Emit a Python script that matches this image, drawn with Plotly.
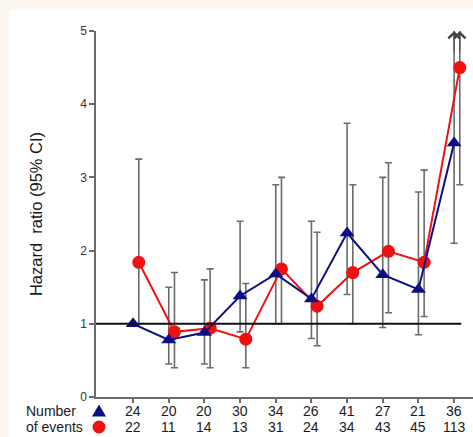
import plotly.graph_objects as go

# Exposure groups (1..10) and hazard ratios with 95% CI for the two cohorts
groups = [1, 2, 3, 4, 5, 6, 7, 8, 9, 10]

blue_hr = [1.0, 0.78, 0.88, 1.38, 1.68, 1.34, 2.24, 1.67, 1.47, 3.47]
blue_lo = [1.0, 0.45, 0.45, 0.89, 1.0, 0.8, 1.4, 0.95, 0.85, 2.1]
blue_hi = [1.0, 1.5, 1.6, 2.4, 2.9, 2.4, 3.74, 3.0, 2.8, 6.0]

red_hr = [1.84, 0.89, 0.94, 0.79, 1.75, 1.24, 1.7, 1.99, 1.84, 4.5]
red_lo = [1.0, 0.4, 0.4, 0.4, 1.0, 0.7, 1.0, 1.15, 1.1, 2.9]
red_hi = [3.25, 1.7, 1.75, 1.55, 3.0, 2.25, 2.9, 3.2, 3.1, 6.0]

blue_events = [24, 20, 20, 30, 34, 26, 41, 27, 21, 36]
red_events = [22, 11, 14, 13, 31, 24, 34, 43, 45, 113]

y_ticks = [0, 1, 2, 3, 4, 5]
y_max = 5

BLUE = "#0d0d85"
RED = "#f01010"
GREY = "#6b6b6b"
CREAM = "#fdf8ef"
TEXT = "#1a1a1a"

RED_SHIFT = 0.16
red_x = [g + RED_SHIFT for g in groups]

W, H = 473, 437
L, R, T, B = 96, 0, 31, 40
pw, ph = W - L - R, H - T - B

fig = go.Figure()

# confidence-interval whiskers (drawn under the lines and markers)
for xs, hr, lo, hi in ((groups, blue_hr, blue_lo, blue_hi), (red_x, red_hr, red_lo, red_hi)):
    fig.add_trace(go.Scatter(
        x=xs, y=hr, mode="markers",
        marker=dict(size=1, color="rgba(0,0,0,0)"),
        error_y=dict(type="data", symmetric=False,
                     array=[h - v for h, v in zip(hi, hr)],
                     arrayminus=[v - l for v, l in zip(hr, lo)],
                     color=GREY, thickness=1.6, width=3.5),
        hoverinfo="skip", showlegend=False,
    ))

# reference line at HR = 1
fig.add_shape(type="line", xref="x", yref="y", x0=-0.04, x1=10.2, y0=1, y1=1,
              line=dict(color="#111111", width=2), layer="above")

fig.add_trace(go.Scatter(
    x=red_x, y=red_hr, mode="lines+markers",
    line=dict(color=RED, width=2),
    marker=dict(symbol="circle", size=13, color=RED),
    showlegend=False,
))
fig.add_trace(go.Scatter(
    x=groups, y=blue_hr, mode="lines+markers",
    line=dict(color=BLUE, width=2),
    marker=dict(symbol="triangle-up", size=13, color=BLUE),
    showlegend=False,
))

# open arrowheads on intervals that run past the top of the axis
for xs, hi in ((groups, blue_hi), (red_x, red_hi)):
    for x, h in zip(xs, hi):
        if h > y_max:
            fig.add_annotation(x=x, y=y_max, ax=x, ay=y_max - 0.3,
                               xref="x", yref="y", axref="x", ayref="y",
                               text="", showarrow=True, arrowhead=4,
                               arrowsize=2.2, arrowwidth=1, arrowcolor="#444444")

# number of events table under the x axis
row1 = -(411 - (H - B)) / ph
row2 = -(427 - (H - B)) / ph
for g, nb, nr in zip(groups, blue_events, red_events):
    fig.add_annotation(x=g, y=row1, xref="x", yref="paper", text=str(nb),
                       xanchor="center", yanchor="middle",
                       showarrow=False, font=dict(size=14, color=TEXT))
    fig.add_annotation(x=g, y=row2, xref="x", yref="paper", text=str(nr),
                       xanchor="center", yanchor="middle",
                       showarrow=False, font=dict(size=14, color=TEXT))

fig.add_annotation(x=(78 - L) / pw, y=row1, xref="paper", yref="paper",
                   xanchor="right", yanchor="middle",
                   text="Number", showarrow=False, font=dict(size=14, color=TEXT))
fig.add_annotation(x=(85 - L) / pw, y=row2, xref="paper", yref="paper",
                   xanchor="right", yanchor="middle",
                   text="of events", showarrow=False, font=dict(size=14, color=TEXT))

# series keys next to the table rows (pixel-sized glyphs)
key_x = (99 - L) / pw
fig.add_shape(type="path", xref="paper", yref="paper",
              xsizemode="pixel", ysizemode="pixel", xanchor=key_x, yanchor=row1,
              path="M-7,-5.5 L7,-5.5 L0,6.5 Z",
              fillcolor=BLUE, line=dict(width=0))
fig.add_shape(type="circle", xref="paper", yref="paper",
              xsizemode="pixel", ysizemode="pixel", xanchor=key_x, yanchor=row2,
              x0=-6.5, x1=6.5, y0=-6.5, y1=6.5,
              fillcolor=RED, line=dict(width=0))

# cream frame on the top and left page edges
fig.add_shape(type="rect", xref="paper", yref="paper",
              x0=(9 - L) / pw, x1=1.01, y0=-(H - T - ph) / ph - 0.01,
              y1=1 + (T - 10) / ph,
              fillcolor="white", line=dict(width=0), layer="below")

fig.update_layout(
    width=W, height=H,
    margin=dict(l=L, r=R, t=T, b=B, pad=0),
    paper_bgcolor=CREAM, plot_bgcolor="rgba(0,0,0,0)",
    font=dict(family="Arial, Liberation Sans, sans-serif", color="#222222"),
    xaxis=dict(range=[-0.04, 10.53], tickvals=groups, ticktext=[""] * len(groups),
               showgrid=False, zeroline=False, showline=True, linecolor=GREY,
               linewidth=1.5, ticks="outside", ticklen=4, tickcolor=GREY,
               tickwidth=1.5, fixedrange=True),
    yaxis=dict(range=[0, y_max], tickvals=y_ticks, showgrid=False, zeroline=False,
               showline=True, linecolor=GREY, linewidth=1.5, ticks="outside",
               ticklen=5, tickcolor=GREY, tickwidth=1.5,
               tickfont=dict(size=12, color="#333333"),
               title=dict(text="Hazard  ratio (95% CI)", standoff=33,
                          font=dict(size=16.5, color=TEXT)),
               fixedrange=True),
)

fig.write_html("out.html")
